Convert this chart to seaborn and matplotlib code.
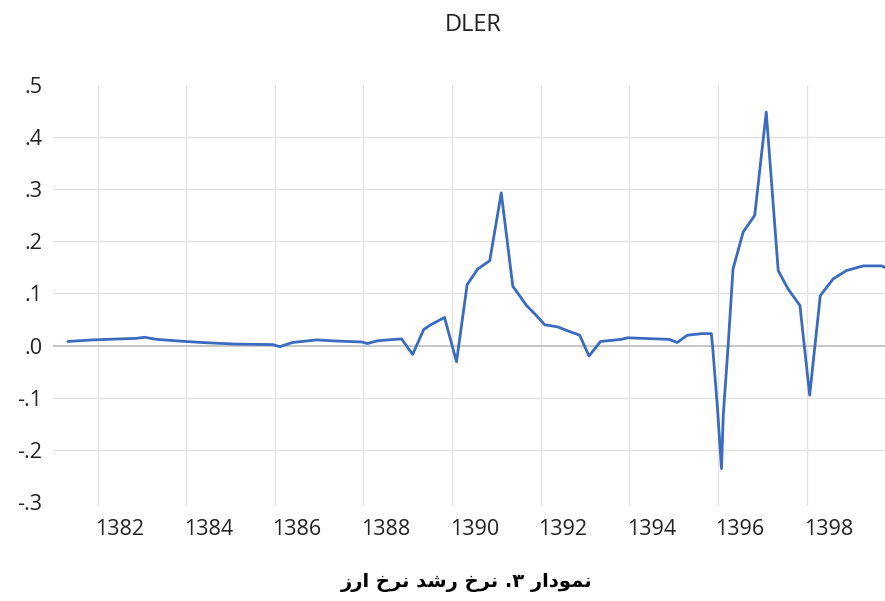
import matplotlib
matplotlib.use("Agg")
import matplotlib.pyplot as plt
import seaborn as sns
import pandas as pd

# Series DLER (time in years, value)
years = [1381.33, 1381.89, 1382.87, 1383.06, 1383.33, 1383.81, 1384.35, 1385.09,
         1385.95, 1386.11, 1386.40, 1386.94, 1387.35, 1387.96, 1388.09, 1388.30,
         1388.41, 1388.86, 1389.11, 1389.36, 1389.54, 1389.83, 1390.10, 1390.34,
         1390.58, 1390.85, 1391.11, 1391.37, 1391.68, 1391.90, 1392.09, 1392.38,
         1392.59, 1392.88, 1393.09, 1393.35, 1393.82, 1393.96, 1394.90, 1395.08,
         1395.31, 1395.64, 1395.85, 1395.88, 1395.99, 1396.08, 1396.12, 1396.23,
         1396.34, 1396.57, 1396.83, 1397.09, 1397.36, 1397.58, 1397.85, 1398.07,
         1398.31, 1398.60, 1398.90, 1399.28, 1399.69, 1399.77]
dler = [0.008, 0.011, 0.014, 0.016, 0.012, 0.009, 0.006, 0.003,
        0.002, -0.002, 0.006, 0.011, 0.009, 0.007, 0.004, 0.009,
        0.010, 0.013, -0.017, 0.031, 0.041, 0.054, -0.031, 0.117,
        0.147, 0.163, 0.293, 0.114, 0.077, 0.058, 0.040, 0.036,
        0.029, 0.020, -0.020, 0.008, 0.012, 0.015, 0.012, 0.006,
        0.020, 0.023, 0.023, -0.002, -0.121, -0.236, -0.133, 0.000,
        0.147, 0.218, 0.250, 0.448, 0.144, 0.109, 0.077, -0.095,
        0.096, 0.128, 0.144, 0.153, 0.153, 0.150]

grid_years = [1382, 1384, 1386, 1388, 1390, 1392, 1394, 1396, 1398]
year_labels = ["1382", "1384", "1386", "1388", "1390", "1392", "1394", "1396", "1398"]
y_ticks = [-0.3, -0.2, -0.1, 0.0, 0.1, 0.2, 0.3, 0.4, 0.5]
y_labels = ["-.3", "-.2", "-.1", ".0", ".1", ".2", ".3", ".4", ".5"]

# نمودار ۳. نرخ رشد نرخ ارز  (shaped forms, visual order)
caption = ("\uFEAF\uFEAD\uFE8D \uFEA5\uFEAE\uFEE7 \uFEAA\uFEB7\uFEAD "
           "\uFEA5\uFEAE\uFEE7 .\u06F3 \uFEAD\uFE8D\uFEA9\uFEEE\uFEE4\uFEE7")

sns.set_style("white")
plt.rcParams['font.family'] = ['Open Sans', 'DejaVu Sans']

df = pd.DataFrame({"year": years, "DLER": dler})

fig = plt.figure(figsize=(8.85, 6.01), dpi=100)
ax = fig.add_axes([0.0602, 0.1647, 0.9398, 0.6939])

# inner gridlines only (none at top and bottom edges)
for y in y_ticks[1:-1]:
    if y != 0.0:
        ax.axhline(y, color="#e3e3e3", lw=1.0, zorder=0)
for x in grid_years:
    ax.plot([x, x], [-0.306, 0.5], color="#e3e3e3", lw=1.0, zorder=0, clip_on=False)
ax.axhline(0.0, color="#bdbdbd", lw=1.2, zorder=1)

sns.lineplot(data=df, x="year", y="DLER", ax=ax, color="#3a6bbf", lw=2.0, zorder=3)

ax.set_xlim(1381.0, 1399.77)
ax.set_ylim(-0.3, 0.5)
ax.set_xticks([g + 0.5 for g in grid_years])
ax.set_xticklabels(year_labels, fontsize=15.5, color="#222222")
ax.set_yticks(y_ticks)
ax.set_yticklabels(y_labels, fontsize=15.5, color="#222222")
ax.tick_params(axis="both", length=0)
ax.tick_params(axis="x", pad=12)
ax.tick_params(axis="y", pad=8)
ax.set_xlabel("")
ax.set_ylabel("")
for s in ax.spines.values():
    s.set_visible(False)

fig.text(0.535, 1 - 25 / 601, "DLER", ha="center", va="center", fontsize=17, color="#222222")
fig.text(0.527, 1 - 583 / 601, caption, ha="center", va="center", fontsize=14,
         fontweight="bold", family=["DejaVu Sans"], color="black")

fig.savefig("out.png", dpi=100)
